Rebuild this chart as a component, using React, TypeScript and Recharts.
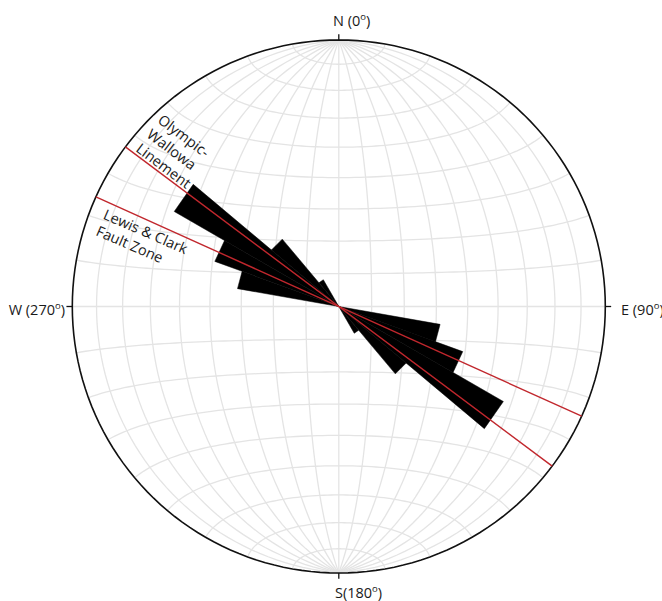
import React from 'react';
import { ScatterChart, Scatter, XAxis, YAxis } from 'recharts';

// ---------- data ----------
// Bidirectional rose diagram, 10° bins (azimuth of bin start, NW half; mirrored to SE)
const binStarts = [280, 290, 300, 310, 320];
const binValues = [38.6, 49.5, 71.3, 33.0, 11.6]; // petal length, % of net radius
const binWidth = 10;

// Regional structures drawn through the centre (azimuth of NW end, degrees)
const structureNames = [['Olympic-', 'Wallowa', 'Linement'], ['Lewis & Clark', 'Fault Zone']];
const structureAzimuths = [306.8, 294.3];

// Compass labels
const directionLetters = ['N', 'E', 'S', 'W'];
const directionDegrees = ['0', '90', '180', '270'];
const directionSeparators = [' ', ' ', '', ' '];

// ---------- layout / style ----------
const W = 662;
const H = 601;
const CX = 338.8;
const CY = 306.5;
const R = 266.5;
const GRID_STEP = 10;
const FONT = '"Open Sans", "Noto Sans", sans-serif';
const FONT_SIZE = 14.5;
const RED = '#c1272d';

const xDomain = [-CX / R, (W - CX) / R];
const yDomain = [-(H - CY) / R, CY / R];
const fromPx = (px: number, py: number) => ({ x: (px - CX) / R, y: (CY - py) / R });

const rad = (d: number) => (d * Math.PI) / 180;

// Schmidt (equal-area) net, equatorial aspect
const project = (lonDeg: number, latDeg: number) => {
  const lon = rad(lonDeg);
  const lat = rad(latDeg);
  const x3 = Math.cos(lat) * Math.sin(lon);
  const y3 = Math.sin(lat);
  const z3 = Math.cos(lat) * Math.cos(lon);
  const k = 1 / Math.sqrt(1 + z3);
  return { x: x3 * k, y: y3 * k };
};

const gridLines: { x: number; y: number }[][] = [];
for (let lon = -90 + GRID_STEP; lon < 90; lon += GRID_STEP) {
  const pts = [];
  for (let lat = -90; lat <= 90; lat += 2) pts.push(project(lon, lat));
  gridLines.push(pts);
}
for (let lat = -90 + GRID_STEP; lat < 90; lat += GRID_STEP) {
  const pts = [];
  for (let lon = -90; lon <= 90; lon += 2) pts.push(project(lon, lat));
  gridLines.push(pts);
}

const primitive: { x: number; y: number }[] = [];
for (let a = 0; a <= 360; a += 2) primitive.push({ x: Math.sin(rad(a)), y: Math.cos(rad(a)) });

const polar = (az: number, r: number) => ({ x: r * Math.sin(rad(az)), y: r * Math.cos(rad(az)) });

const petals: { x: number; y: number }[][] = [];
binStarts.forEach((start, i) => {
  const r = binValues[i] / 100;
  [0, 180].forEach((off) => {
    const a1 = start + off;
    const a2 = start + off + binWidth;
    petals.push([{ x: 0, y: 0 }, polar(a1, r), polar(a2, r), { x: 0, y: 0 }]);
  });
});

const structureLines = structureAzimuths.map((az) => [polar(az, 1), polar(az + 180, 1)]);

const TICK = 0.022;
const compassTicks = [0, 90, 180, 270].map((az) => [polar(az, 1), polar(az, 1 + TICK)]);

const compassPositions = [
  { px: 333, py: 26, anchor: 'start' },
  { px: 621, py: 315, anchor: 'start' },
  { px: 335, py: 598, anchor: 'start' },
  { px: 65, py: 315, anchor: 'end' },
];
const compassData = directionLetters.map((l, i) => ({
  ...fromPx(compassPositions[i].px, compassPositions[i].py),
  head: l + directionSeparators[i] + '(' + directionDegrees[i],
  anchor: compassPositions[i].anchor,
}));

const structureLabelPos = [
  { px: 156.7, py: 122, rot: 37 },
  { px: 102.3, py: 218.4, rot: 23.5 },
];
const structureLabelData = structureNames.map((lines, i) => ({
  ...fromPx(structureLabelPos[i].px, structureLabelPos[i].py),
  lines,
  rot: structureLabelPos[i].rot,
}));

const NoDot = () => <g />;

const CompassText = (props: any) => {
  const { cx, cy, payload } = props;
  return (
    <text x={cx} y={cy} textAnchor={payload.anchor} fontFamily={FONT} fontSize={FONT_SIZE} fill="#1a1a1a">
      {payload.head}
      <tspan fontSize={9.5} dy={-6}>o</tspan>
      <tspan dy={6}>)</tspan>
    </text>
  );
};

const StructureText = (props: any) => {
  const { cx, cy, payload } = props;
  return (
    <text
      transform={`translate(${cx},${cy}) rotate(${payload.rot})`}
      fontFamily={FONT}
      fontSize={FONT_SIZE}
      fill="#1a1a1a"
    >
      {payload.lines.map((ln: string, i: number) => (
        <tspan key={i} x={0} dy={i === 0 ? 0 : 18}>
          {ln}
        </tspan>
      ))}
    </text>
  );
};

export default function App() {
  return (
    <div style={{ position: 'absolute', left: 0, top: 0, width: W, height: H, background: '#fff', overflow: 'hidden' }}>
      <ScatterChart width={W} height={H} margin={{ top: 0, right: 0, bottom: 0, left: 0 }}>
        <XAxis type="number" dataKey="x" domain={xDomain} allowDataOverflow hide />
        <YAxis type="number" dataKey="y" domain={yDomain} allowDataOverflow hide />
        {gridLines.map((pts, i) => (
          <Scatter
            key={'g' + i}
            data={pts}
            line={{ stroke: '#e4e4e4', strokeWidth: 1.3 }}
            shape={NoDot}
            isAnimationActive={false}
            legendType="none"
          />
        ))}
        {petals.map((pts, i) => (
          <Scatter
            key={'p' + i}
            data={pts}
            line={{ fill: '#000', stroke: '#000', strokeWidth: 0.5 }}
            shape={NoDot}
            isAnimationActive={false}
            legendType="none"
          />
        ))}
        <Scatter
          data={primitive}
          line={{ stroke: '#111', strokeWidth: 1.6 }}
          shape={NoDot}
          isAnimationActive={false}
          legendType="none"
        />
        {compassTicks.map((pts, i) => (
          <Scatter
            key={'t' + i}
            data={pts}
            line={{ stroke: '#111', strokeWidth: 1.3 }}
            shape={NoDot}
            isAnimationActive={false}
            legendType="none"
          />
        ))}
        {structureLines.map((pts, i) => (
          <Scatter
            key={'s' + i}
            name={structureNames[i].join(' ')}
            data={pts}
            line={{ stroke: RED, strokeWidth: 1.4 }}
            shape={NoDot}
            isAnimationActive={false}
            legendType="none"
          />
        ))}
        <Scatter data={compassData} shape={CompassText} isAnimationActive={false} legendType="none" />
        <Scatter data={structureLabelData} shape={StructureText} isAnimationActive={false} legendType="none" />
      </ScatterChart>
    </div>
  );
}
